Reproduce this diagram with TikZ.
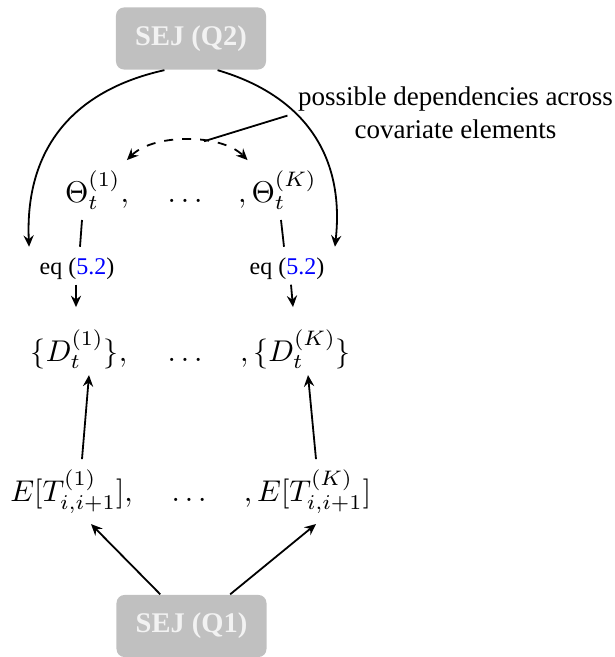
\documentclass[tikz,border=0pt]{standalone}
\usepackage{fontspec}
\setmainfont{Liberation Serif}
\usetikzlibrary{arrows.meta,calc}
\definecolor{boxgray}{RGB}{192,192,192}
\definecolor{boxtext}{RGB}{242,242,242}
\begin{document}
\begin{tikzpicture}[x={(0.33333pt,0)},y={(0,-0.33333pt)},
  box/.style={fill=boxgray, rounded corners=2.7pt, minimum width=50pt, minimum height=20.7pt, text=boxtext, inner sep=0pt, font=\fontsize{9.5}{11}\selectfont\bfseries},
  m/.style={font=\fontsize{10}{12}\selectfont, anchor=base},
  eqn/.style={font=\fontsize{8}{10}\selectfont, anchor=base},
  conn/.style={line width=0.6pt},
  tip/.tip={Stealth[length=3.8pt,width=3.4pt,inset=1.3pt]},
  arr/.style={conn, -tip},
]
\useasboundingbox (0,0) rectangle (615,657);
\node[box] (Q2) at (191,38.5) {SEJ (Q2)};
\node[box] (Q1) at (191.5,626) {SEJ (Q1)};
\node[m] (T1) at (97,202) {$\Theta_t^{(1)},$};
\node[m] (Td) at (185,202) {$\dots$};
\node[m] (T2) at (277.5,202) {$,\Theta_t^{(K)}$};
\node[eqn] (e1) at (77,274) {eq (\textcolor{blue}{5.2})};
\node[eqn] (e2) at (287,274) {eq (\textcolor{blue}{5.2})};
\node[m] (D1) at (79,361) {$\{D_t^{(1)}\},$};
\node[m] (Dd) at (185,361) {$\dots$};
\node[m] (D2) at (295.5,361) {$,\{D_t^{(K)}\}$};
\node[m] (E1) at (71.5,501) {$E[T^{(1)}_{i,i+1}],$};
\node[m] (Ed) at (189,501) {$\dots$};
\node[m] (E2) at (307.5,501) {$,E[T^{(K)}_{i,i+1}]$};
\node[font=\fontsize{9}{11}\selectfont, align=center, inner sep=0pt, anchor=north] (lab) at (455.5,86) {possible dependencies across\\covariate elements};

\draw[arr] (Q2.230) to[bend right=40, looseness=1.1] (e1.north west);
\draw[arr] (Q2.310) to[bend left=40, looseness=1.1] (e2.north east);
\draw[conn, dashed, tip-tip] (T1) to[bend left=45, looseness=0.8] coordinate[pos=0.62] (dep) (T2);
\draw[conn] ($(lab.west)+(-10,3)$) -- (dep);
\draw[conn] ($(T1.south)+(-15,0)$) -- ($(e1.north)+(3,0)$);
\draw[conn] ($(T2.south)+(3.5,0)$) -- ($(e2.north)+(-3,0)$);
\draw[arr] ($(e1.south)+(-1,-5)$) -- ($(D1.north)+(-3,-12)$);
\draw[arr] ($(e2.south)+(4,-5)$) -- ($(D2.north)+(-2.5,-12)$);
\draw[arr] ($(E1.north)+(10.5,0)$) -- ($(D1.south)+(10,-4)$);
\draw[arr] ($(E2.north)+(8.5,0)$) -- ($(D2.south)+(12.5,-4)$);
\draw[arr] (Q1) -- ($(E1.south)+(19.5,0)$);
\draw[arr] (Q1) -- ($(E2.south)+(8.5,0)$);
\end{tikzpicture}
\end{document}
